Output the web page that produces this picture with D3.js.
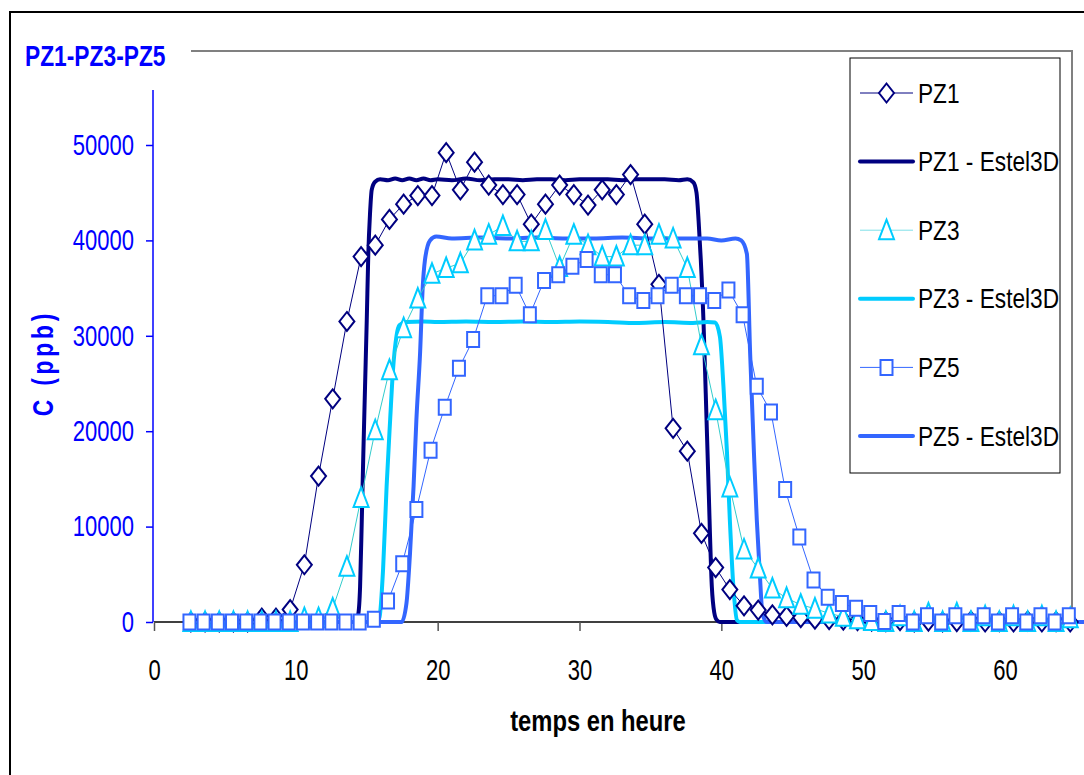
<!DOCTYPE html>
<html>
<head>
<meta charset="utf-8">
<script src="https://cdn.jsdelivr.net/npm/d3@7"></script>
<style>
  body { margin: 0; background: #fff; }
  svg { display: block; font-family: "Liberation Sans", Arial, sans-serif; }
</style>
</head>
<body>
<div id="chart"></div>
<script>
// Measured series (one value per hour)
const hoursPZ13 = [2.6, 3.6, 4.6, 5.6, 6.6, 7.6, 8.6, 9.6, 10.6, 11.6, 12.6, 13.6, 14.6, 15.6, 16.6, 17.6, 18.6, 19.6, 20.6, 21.6,
  22.6, 23.6, 24.6, 25.6, 26.6, 27.6, 28.6, 29.6, 30.6, 31.6, 32.6, 33.6, 34.6, 35.6, 36.6, 37.6, 38.6, 39.6, 40.6, 41.6,
  42.6, 43.6, 44.6, 45.6, 46.6, 47.6, 48.6, 49.6, 50.6, 51.6, 52.6, 53.6, 54.6, 55.6, 56.6, 57.6, 58.6, 59.6, 60.6, 61.6,
  62.6, 63.6, 64.6];
const hoursPZ5 = [2.5, 3.5, 4.5, 5.5, 6.5, 7.5, 8.5, 9.5, 10.5, 11.5, 12.5, 13.5, 14.5, 15.5, 16.5, 17.5, 18.5, 19.5, 20.5, 21.5,
  22.5, 23.5, 24.5, 25.5, 26.5, 27.5, 28.5, 29.5, 30.5, 31.5, 32.5, 33.5, 34.5, 35.5, 36.5, 37.5, 38.5, 39.5, 40.5, 41.5,
  42.5, 43.5, 44.5, 45.5, 46.5, 47.5, 48.5, 49.5, 50.5, 51.5, 52.5, 53.5, 54.5, 55.5, 56.5, 57.5, 58.5, 59.5, 60.5, 61.5,
  62.5, 63.5, 64.5];

const pz1 = [0, 0, 0, 0, 0, 400, 400, 1300, 6000, 15300, 23400, 31500, 38300, 39500, 42200, 43800, 44700, 44700, 49200, 45300,
  48200, 45800, 44800, 44800, 41700, 43800, 45800, 44800, 43700, 45300, 44800, 46900, 41700, 35400, 20300, 17900, 9300, 5700, 3400, 1700,
  1250, 750, 600, 450, 300, 250, 200, 150, 100, 50, 150, 0, 100, 0, 50, 100, 0, 50, 0, 100,
  0, 50, 0];
const pz3 = [0, 0, 0, 0, 0, 0, 0, 0, 400, 400, 1400, 5800, 13000, 20100, 26400, 30800, 33900, 36500, 37100, 37600,
  40000, 40600, 41500, 39900, 39900, 41100, 37200, 40600, 39500, 38300, 38300, 39500, 39500, 40600, 40200, 37100, 29000, 22200, 14100, 7600,
  5600, 3500, 2500, 1800, 1400, 900, 550, 300, 100, 0, 600, 0, 900, 0, 900, 0, 600, 0, 600, 0,
  600, 0, 400];
const pz5 = [0, 0, 0, 0, 0, 0, 0, 0, 0, 0, 0, 0, 0, 300, 2200, 6100, 11800, 18000, 22500, 26600,
  29600, 34200, 34200, 35300, 32200, 35800, 36400, 37300, 38000, 36400, 36400, 34200, 33700, 34200, 35300, 34200, 34200, 33700, 34800, 32200,
  24700, 22000, 13900, 8900, 4400, 2600, 1950, 1450, 900, 50, 900, 0, 650, 0, 650, 0, 650, 0, 650, 0,
  650, 0, 650];

// Estel3D simulated curves
const estelT1 = [2.5, 14.2, 14.4, 14.53, 14.65, 14.76, 14.88, 15.0, 15.11, 15.23, 15.35, 15.59, 15.94, 16.5, 17, 17.5, 18, 18.5, 19, 19.5,
  20, 21, 22, 23, 24, 25, 26, 27, 28, 29, 30, 31, 32, 33, 34, 35, 36, 37, 37.6, 38.02,
  38.25, 38.4, 38.55, 38.74, 38.9, 39.1, 39.33, 39.5, 39.68, 39.9, 66];
const estelPZ1 = [0, 0, 800, 3700, 10700, 17700, 24700, 31600, 38600, 42800, 45300, 46150, 46400, 46300, 46500, 46300, 46500, 46300, 46500, 46300,
  46400, 46300, 46500, 46300, 46400, 46400, 46300, 46400, 46400, 46300, 46400, 46400, 46400, 46300, 46400, 46400, 46400, 46300, 46400, 46100,
  45000, 42000, 38000, 31600, 24000, 14200, 3700, 1000, 200, 0, 0];
const estelT3 = [2.5, 15.7, 15.9, 16.15, 16.4, 16.65, 16.85, 17.1, 17.3, 17.8, 19, 20, 22, 24, 26, 28, 30, 32, 34, 36,
  38, 39, 39.56, 39.9, 40.15, 40.4, 40.6, 40.85, 41.1, 41.3, 66];
const estelPZ3 = [0, 0, 500, 5500, 14200, 21200, 26400, 30000, 31100, 31450, 31500, 31450, 31500, 31450, 31500, 31450, 31500, 31450, 31350, 31450,
  31350, 31450, 31400, 29900, 24700, 17700, 10700, 3700, 200, 0, 0];
const estelT5 = [2.5, 17.46, 17.8, 18.05, 18.3, 18.5, 18.76, 18.95, 19.1, 19.46, 19.9, 21, 23, 25, 27, 29, 31, 33, 35, 37,
  39, 40, 41, 41.4, 41.8, 42.03, 42.3, 42.5, 42.7, 42.9, 43.2, 66];
const estelPZ5 = [0, 0, 1960, 7200, 14200, 21200, 28200, 35200, 37900, 40000, 40400, 40200, 40300, 40200, 40300, 40200, 40200, 40300, 40200, 40200,
  40200, 40000, 40200, 40000, 38600, 28200, 17700, 10700, 5400, 900, 0, 0];

const xTicks = [0, 10, 20, 30, 40, 50, 60];
const yTicks = [0, 10000, 20000, 30000, 40000, 50000];
const legendNames = ['PZ1', 'PZ1 - Estel3D', 'PZ3', 'PZ3 - Estel3D', 'PZ5', 'PZ5 - Estel3D'];

const navy = '#000080', cyan = '#00ccff', blue = '#3366ff';

const width = 1084, height = 775;
const svg = d3.select('#chart').append('svg')
  .attr('width', width)
  .attr('height', height);

// outer frame
svg.append('rect')
  .attr('x', 10).attr('y', 12)
  .attr('width', 1100).attr('height', 800)
  .attr('fill', 'none').attr('stroke', '#000').attr('stroke-width', 2);

const x = d3.scaleLinear().domain([0, 60]).range([154, 1005]);
const y = d3.scaleLinear().domain([0, 50000]).range([622, 145]);
const yTop = 90;

// plot area border (partly hidden under the title)
svg.append('path')
  .attr('d', `M191,51 H1072 V622`)
  .attr('fill', 'none').attr('stroke', '#808080').attr('stroke-width', 2);

// title
svg.append('text')
  .attr('transform', 'translate(25,66) scale(0.76,1)')
  .attr('font-size', 30).attr('font-weight', 'bold')
  .attr('fill', '#0000ff')
  .text('PZ1-PZ3-PZ5');

// x axis
const xAxisG = svg.append('g')
  .attr('transform', `translate(0,${y(0)})`)
  .call(d3.axisBottom(x).tickValues(xTicks).tickSize(9).tickSizeOuter(0));
xAxisG.select('.domain').attr('d', `M${x(0)},0H${width + 5}`).attr('stroke', '#000').attr('stroke-width', 1.5);
xAxisG.selectAll('.tick line').attr('stroke', '#555').attr('stroke-width', 1.5);
xAxisG.selectAll('.tick text')
  .attr('y', 58).attr('dy', 0)
  .attr('transform', 'scale(0.76,1)')
  .attr('font-size', 29).attr('font-family', '"Liberation Sans", Arial, sans-serif')
  .attr('fill', '#000');

// y axis
const yAxisG = svg.append('g')
  .attr('transform', `translate(${x(0) - 1},0)`)
  .call(d3.axisLeft(y).tickValues(yTicks).tickSize(7).tickSizeOuter(0).tickFormat(d3.format('d')));
yAxisG.select('.domain').attr('d', `M0,${yTop}V${y(0)}`).attr('stroke', '#0000ff').attr('stroke-width', 1.5);
yAxisG.selectAll('.tick line').attr('stroke', '#0000ff').attr('stroke-width', 1.5);
yAxisG.selectAll('.tick text')
  .attr('x', -25)
  .attr('transform', 'scale(0.76,1)')
  .attr('font-size', 29).attr('font-family', '"Liberation Sans", Arial, sans-serif')
  .attr('fill', '#0000ff');

// axis titles
svg.append('text')
  .attr('transform', 'translate(53,363) rotate(-90) scale(0.76,1)')
  .attr('text-anchor', 'middle')
  .attr('font-size', 30).attr('font-weight', 'bold')
  .attr('letter-spacing', 5)
  .attr('fill', '#0000ff')
  .text('C (ppb)');

svg.append('text')
  .attr('transform', 'translate(598,731) scale(0.82,1)')
  .attr('text-anchor', 'middle')
  .attr('font-size', 29).attr('font-weight', 'bold')
  .attr('fill', '#000')
  .text('temps en heure');

// marker shapes (a bit taller than wide, like the original)
const markerPath = {
  diamond: 'M0,-9.5L7.5,0L0,9.5L-7.5,0Z',
  triangle: 'M0,-10.5L7.5,9L-7.5,9Z',
  square: 'M-6,-7.5H6V7.5H-6Z'
};

const line = d3.line()
  .x(d => x(d[0]))
  .y(d => y(d[1]));
const smooth = d3.line()
  .x(d => x(d[0]))
  .y(d => y(d[1]))
  .curve(d3.curveMonotoneX);

// simulated curves first (under the markers)
const estel = [
  { t: estelT1, v: estelPZ1, color: navy },
  { t: estelT3, v: estelPZ3, color: cyan },
  { t: estelT5, v: estelPZ5, color: blue }
];
estel.forEach(s => {
  svg.append('path')
    .datum(s.t.map((t, i) => [t, s.v[i]]))
    .attr('d', smooth)
    .attr('fill', 'none')
    .attr('stroke', s.color)
    .attr('stroke-width', 4)
    .attr('stroke-linejoin', 'round');
});

// measured series
const measured = [
  { t: hoursPZ13, v: pz1, color: navy, lineColor: navy, shape: 'diamond' },
  { t: hoursPZ13, v: pz3, color: cyan, lineColor: '#33cccc', shape: 'triangle' },
  { t: hoursPZ5, v: pz5, color: blue, lineColor: blue, shape: 'square' }
];
measured.forEach(s => {
  const pts = s.t.map((t, i) => [t, s.v[i]]);
  svg.append('path')
    .datum(pts)
    .attr('d', line)
    .attr('fill', 'none')
    .attr('stroke', s.lineColor)
    .attr('stroke-width', 1);
  svg.append('g')
    .selectAll('path')
    .data(pts)
    .join('path')
    .attr('transform', d => `translate(${x(d[0])},${y(d[1])})`)
    .attr('d', markerPath[s.shape])
    .attr('fill', '#fff')
    .attr('stroke', s.color)
    .attr('stroke-width', 2);
});

// legend
const legend = svg.append('g');
legend.append('rect')
  .attr('x', 850).attr('y', 58)
  .attr('width', 210).attr('height', 415)
  .attr('fill', '#fff').attr('stroke', '#000').attr('stroke-width', 1);

const legendItems = [
  { name: legendNames[0], color: navy, lineColor: navy, shape: 'diamond' },
  { name: legendNames[1], color: navy, lineColor: navy, shape: null },
  { name: legendNames[2], color: cyan, lineColor: '#7fe0e8', shape: 'triangle' },
  { name: legendNames[3], color: cyan, lineColor: cyan, shape: null },
  { name: legendNames[4], color: blue, lineColor: blue, shape: 'square' },
  { name: legendNames[5], color: blue, lineColor: blue, shape: null }
];
legendItems.forEach((d, i) => {
  const ly = 93 + i * 68.6;
  const g = legend.append('g').attr('transform', `translate(0,${ly})`);
  g.append('line')
    .attr('x1', 860).attr('x2', 913)
    .attr('y1', 0).attr('y2', 0)
    .attr('stroke', d.lineColor)
    .attr('stroke-width', d.shape ? 1 : 4)
    .attr('stroke-linecap', d.shape ? 'butt' : 'round');
  if (d.shape) {
    g.append('path')
      .attr('transform', 'translate(886.5,0)')
      .attr('d', markerPath[d.shape])
      .attr('fill', '#fff')
      .attr('stroke', d.color)
      .attr('stroke-width', 2);
  }
  g.append('text')
    .attr('transform', 'translate(918,9.5) scale(0.84,1)')
    .attr('font-size', 27)
    .attr('fill', '#000')
    .text(d.name);
});
</script>
</body>
</html>
